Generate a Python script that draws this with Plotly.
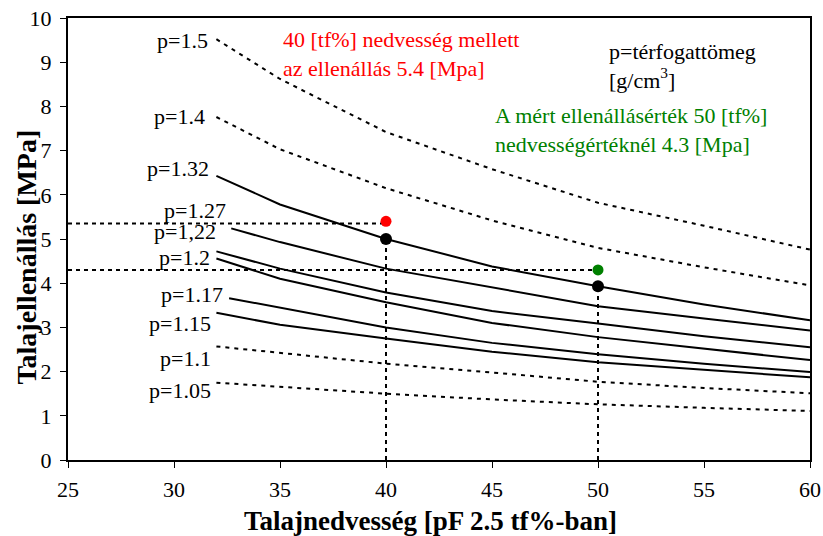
import plotly.graph_objects as go

# ---- data ----
x_std = [32, 35, 40, 45, 50, 55, 60]

p15_y = [9.52, 8.62, 7.42, 6.58, 5.82, 5.30, 4.76]
p14_y = [7.76, 7.03, 6.15, 5.42, 4.80, 4.36, 3.95]
p132_y = [6.43, 5.78, 5.00, 4.38, 3.93, 3.52, 3.16]
p127_x = [32.7, 35, 40, 45, 50, 55, 60]
p127_y = [5.24, 4.93, 4.33, 3.90, 3.48, 3.20, 2.93]
p122_y = [4.72, 4.33, 3.79, 3.37, 3.09, 2.80, 2.55]
p12_y = [4.56, 4.10, 3.57, 3.10, 2.78, 2.52, 2.26]
p117_x = [32.6, 35, 40, 45, 50, 55, 60]
p117_y = [3.66, 3.45, 3.00, 2.65, 2.39, 2.18, 1.99]
p115_y = [3.33, 3.06, 2.75, 2.45, 2.21, 2.04, 1.87]
p11_y = [2.57, 2.42, 2.18, 1.98, 1.77, 1.63, 1.51]
p105_y = [1.75, 1.65, 1.50, 1.37, 1.26, 1.18, 1.11]

curve_names = ["p=1.5", "p=1.4", "p=1.32", "p=1.27", "p=1,22", "p=1.2",
               "p=1.17", "p=1.15", "p=1.1", "p=1.05"]
curve_x = [x_std, x_std, x_std, p127_x, x_std, x_std, p117_x, x_std, x_std, x_std]
curve_y = [p15_y, p14_y, p132_y, p127_y, p122_y, p12_y, p117_y, p115_y, p11_y, p105_y]
curve_dotted = [True, True, False, False, False, False, False, False, True, True]

# computed points (black) and measured points
calc_x = [40, 50]
calc_y = [5.00, 3.93]
red_x = [40]
red_y = [5.40]
green_x = [50]
green_y = [4.30]
hline_levels = [5.35, 4.30]
hline_ends = [40, 50]

x_ticks = [25, 30, 35, 40, 45, 50, 55, 60]
y_ticks = [0, 1, 2, 3, 4, 5, 6, 7, 8, 9, 10]

# label anchor positions (right edge, data coordinates)
label_pos = [(31.7, 9.48), (31.56, 7.77), (31.75, 6.59), (32.55, 5.64), (32.08, 5.17),
             (31.8, 4.58), (32.4, 3.75), (31.84, 3.09), (31.84, 2.30), (31.84, 1.58)]

FONT = "Liberation Serif, Times New Roman, DejaVu Serif, serif"

fig = go.Figure()

for name, xs, ys, dotted in zip(curve_names, curve_x, curve_y, curve_dotted):
    fig.add_trace(go.Scatter(
        x=xs, y=ys, mode="lines", name=name,
        line=dict(color="black", width=2, dash="4px,5px" if dotted else "solid"),
    ))

# helper dashed lines
for lvl, xe in zip(hline_levels, hline_ends):
    fig.add_trace(go.Scatter(x=[25, xe], y=[lvl, lvl], mode="lines",
                             line=dict(color="black", width=2, dash="4px,4px")))
for cx, cy in zip(calc_x, calc_y):
    fig.add_trace(go.Scatter(x=[cx, cx], y=[0, cy], mode="lines",
                             line=dict(color="black", width=2, dash="4px,4px")))

fig.add_trace(go.Scatter(x=calc_x, y=calc_y, mode="markers",
                         marker=dict(color="black", size=12)))
fig.add_trace(go.Scatter(x=red_x, y=red_y, mode="markers",
                         marker=dict(color="#ff0000", size=11)))
fig.add_trace(go.Scatter(x=green_x, y=green_y, mode="markers",
                         marker=dict(color="#008000", size=11)))

annotations = []
for name, (lx, ly) in zip(curve_names, label_pos):
    annotations.append(dict(x=lx, y=ly, xref="x", yref="y", text=name, showarrow=False,
                            xanchor="right", yanchor="middle",
                            font=dict(family=FONT, size=22, color="black")))

annotations += [
    dict(x=0.287, y=0.9186, xref="paper", yref="paper",
         text="40 [tf%] nedvesség mellett<br>az ellenállás 5.4 [Mpa]",
         showarrow=False, xanchor="left", yanchor="middle", align="left",
         font=dict(family=FONT, size=22, color="#ff0000")),
    dict(x=0.7264, y=0.8903, xref="paper", yref="paper",
         text="p=térfogattömeg<br>[g/cm<sup>3</sup>]",
         showarrow=False, xanchor="left", yanchor="middle", align="left",
         font=dict(family=FONT, size=22, color="black")),
    dict(x=0.5728, y=0.7455, xref="paper", yref="paper",
         text="A mért ellenállásérték 50 [tf%]<br>nedvességértéknél 4.3 [Mpa]",
         showarrow=False, xanchor="left", yanchor="middle", align="left",
         font=dict(family=FONT, size=22, color="#008000")),
    dict(x=0.489, y=-0.138, xref="paper", yref="paper",
         text="<b>Talajnedvesség [pF 2.5 tf%-ban]</b>",
         showarrow=False, xanchor="center", yanchor="middle",
         font=dict(family=FONT, size=27, color="black")),
    dict(x=-0.056, y=0.459, xref="paper", yref="paper",
         text="<b>Talajellenállás [MPa]</b>", textangle=-90,
         showarrow=False, xanchor="center", yanchor="middle",
         font=dict(family=FONT, size=28, color="black")),
]

fig.update_layout(
    width=823, height=536,
    margin=dict(l=68, r=13, t=18, b=76, autoexpand=False),
    paper_bgcolor="white", plot_bgcolor="white",
    showlegend=False,
    font=dict(family=FONT, size=22, color="black"),
    annotations=annotations,
    xaxis=dict(range=[25, 60], tickvals=x_ticks, showgrid=False, zeroline=False,
               showline=True, linecolor="black", linewidth=2, mirror=True,
               ticks="outside", ticklen=6, tickcolor="black", tickwidth=1,
               ticklabelstandoff=3, automargin=False,
               tickfont=dict(family=FONT, size=22, color="black")),
    yaxis=dict(range=[0, 10], tickvals=y_ticks, showgrid=False, zeroline=False,
               showline=True, linecolor="black", linewidth=2, mirror=True,
               ticks="outside", ticklen=6, tickcolor="black", tickwidth=1,
               ticklabelstandoff=4, automargin=False,
               tickfont=dict(family=FONT, size=22, color="black")),
)

fig.write_html("out.html",
               config={"displayModeBar": False},
               post_script="document.body.style.margin='0';document.body.style.overflow='hidden';")
